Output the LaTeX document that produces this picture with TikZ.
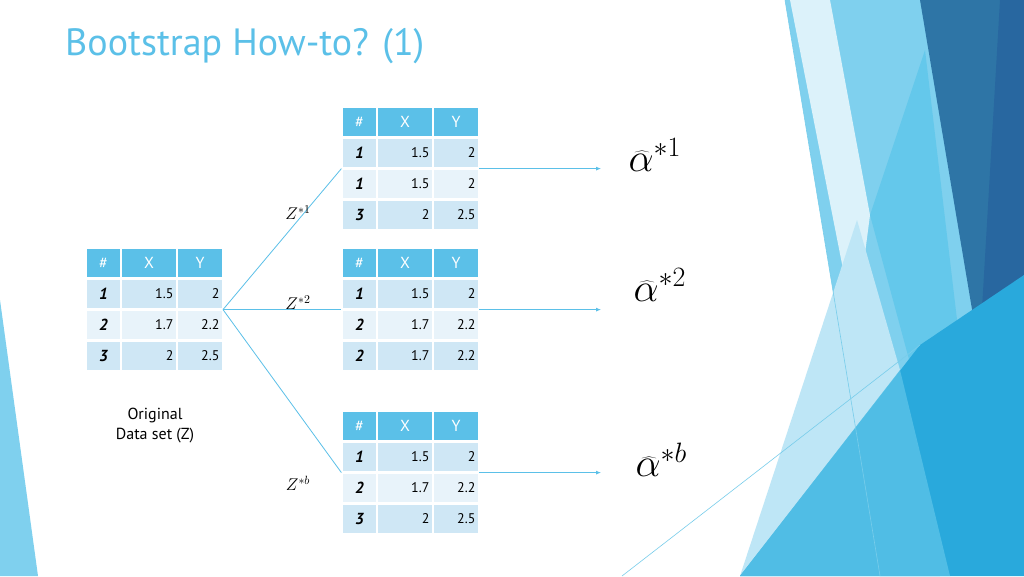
\documentclass[tikz,border=0pt]{standalone}
\usepackage{fix-cm}
\usepackage{fontspec}
\setmainfont{PT Sans}
\usetikzlibrary{arrows.meta}
\definecolor{tb}{HTML}{5BC0E8}
\definecolor{ra}{HTML}{CFE7F5}
\definecolor{rb}{HTML}{E8F3FA}
\definecolor{ln}{HTML}{5BC0E8}
\tikzset{
 cell/.style={minimum height=30pt,inner sep=3pt,draw=white,line width=1.2pt,font=\fontsize{14}{14}\selectfont},
 hcell/.style={cell,fill=tb,text=white,font=\fontsize{16}{16}\selectfont},
 conn/.style={draw=ln,line width=0.8pt},
 arr/.style={conn,-{Latex[length=5pt,width=4pt]}},
 zl/.style={font=\fontsize{17}{17}\selectfont},
 al/.style={font=\fontsize{40}{40}\selectfont}
}
\newcommand\mktab[6]{%
 \node[hcell,minimum width=35pt] (#1h1) at (#2+17.5,#3+15) {\#};
 \node[hcell,minimum width=56pt] (#1h2) at (#2+63,#3+15) {X};
 \node[hcell,minimum width=46pt] (#1h3) at (#2+114,#3+15) {Y};
 \foreach \r/\a/\b/\c/\f in {1/#4/ra,2/#5/rb,3/#6/ra}{%
  \node[cell,fill=\f,minimum width=35pt,font=\fontsize{16}{16}\selectfont\bfseries\itshape] (#1r\r1) at (#2+17.5,#3+15+31*\r) {\a};
  \node[cell,fill=\f,text width=48.8pt,align=right] (#1r\r2) at (#2+63,#3+15+31*\r) {\b};
  \node[cell,fill=\f,text width=38.8pt,align=right] (#1r\r3) at (#2+114,#3+15+31*\r) {\c};
 }}
\begin{document}
\begin{tikzpicture}[x=1pt,y=-1pt]
\useasboundingbox (0,0) rectangle (1024,576);
\fill[white] (0,0) rectangle (1024,576);
% background decoration
\fill[color={rgb,255:red,127;green,208;blue,238}] (785,0) -- (935,0) -- (990,345) -- (940,576) -- (880,576) -- cycle;
\fill[color={rgb,255:red,220;green,242;blue,250}] (790,0) -- (830,0) -- (870,215) -- (855,330) -- cycle;
\fill[color={rgb,255:red,46;green,117;blue,166}] (920,0) -- (1024,0) -- (1024,275) -- (978,345) -- cycle;
\fill[color={rgb,255:red,40;green,103;blue,160}] (1000,0) -- (1024,0) -- (1024,275) -- (980,343) -- cycle;
\fill[color={rgb,255:red,100;green,200;blue,235}] (870,215) -- (925,50) -- (960,345) -- (920,400) -- cycle;
\fill[color={rgb,255:red,190;green,230;blue,246}] (857,220) -- (900,370) -- (790,576) -- (740,576) -- cycle;
\fill[color={rgb,255:red,60;green,150;blue,210}] (960,345) -- (1024,275) -- (1024,400) -- (935,480) -- cycle;
\fill[color={rgb,255:red,41;green,169;blue,220}] (740,576) -- (920,345) -- (1024,275) -- (1024,576) -- cycle;
\fill[color={rgb,255:red,90;green,195;blue,232},opacity=.8] (740,576) -- (900,370) -- (950,576) -- cycle;
\fill[color={rgb,255:red,127;green,208;blue,238}] (0,300) -- (0,576) -- (38,576) -- cycle;
\draw[color={rgb,255:red,120;green,205;blue,235},line width=0.6pt] (785,0) -- (880,576);
\draw[color={rgb,255:red,120;green,205;blue,235},line width=0.6pt] (622,576) -- (920,345);
% title
\node[anchor=base west,text=tb,font=\fontsize{38}{38}\selectfont,inner sep=0pt] (title) at (65,55) {Bootstrap How-to? (1)};
% tables
\mktab{L}{86}{248}{1/1.5/2}{2/1.7/2.2}{3/2/2.5}
\mktab{A}{342}{107}{1/1.5/2}{1/1.5/2}{3/2/2.5}
\mktab{B}{342}{248}{1/1.5/2}{2/1.7/2.2}{2/1.7/2.2}
\mktab{C}{342}{411}{1/1.5/2}{2/1.7/2.2}{3/2/2.5}
\node[align=center,font=\fontsize{16}{20}\selectfont] (orig) at (155,426) {Original\\Data set (Z)};
% connectors
\draw[conn] (Lr13.south east) -- (Ar11.south west);
\draw[conn] (Lr13.south east) -- (Br11.south west);
\draw[conn] (Lr13.south east) -- (Cr11.south west);
\node[zl] (z1) at (298,213) {$Z^{*1}$};
\node[zl] (z2) at (298,303) {$Z^{*2}$};
\node[zl] (zb) at (298,483) {$Z^{*b}$};
\node[al,anchor=west] (a1) at (625,155) {$\widehat{\alpha}^{*1}$};
\node[al,anchor=west] (a2) at (630,285) {$\widehat{\alpha}^{*2}$};
\node[al,anchor=west] (ab) at (632,460) {$\widehat{\alpha}^{*b}$};
\coordinate (e1) at (601,168);
\coordinate (e2) at (601,308);
\coordinate (e3) at (601,472);
\draw[arr] (Ar13.south east) -- (Ar13.south east -| e1);
\draw[arr] (Br13.south east) -- (Br13.south east -| e2);
\draw[arr] (Cr13.south east) -- (Cr13.south east -| e3);
\end{tikzpicture}
\end{document}
